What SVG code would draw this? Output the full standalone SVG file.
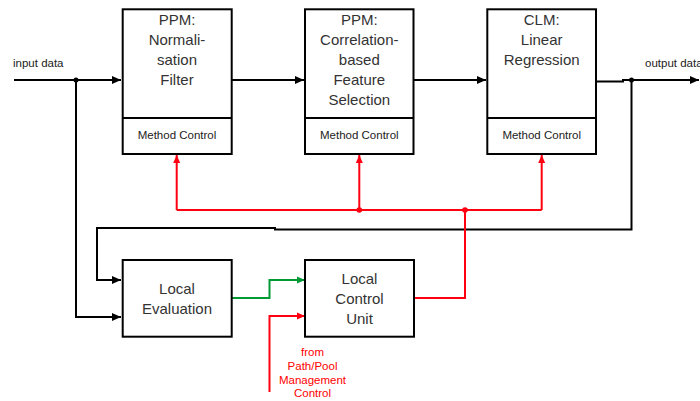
<svg xmlns="http://www.w3.org/2000/svg" width="700" height="401" viewBox="0 0 700 401">
<style>
.box{fill:#fff;stroke:#000;stroke-width:2}
.t{font-family:"Liberation Sans",Arial,sans-serif;font-size:15px;fill:#333;text-anchor:middle}
.s{font-family:"Liberation Sans",Arial,sans-serif;font-size:11.5px;fill:#222;text-anchor:middle}
.r{font-family:"Liberation Sans",Arial,sans-serif;font-size:11.5px;fill:#f00;text-anchor:middle}
.k{fill:none;stroke:#000;stroke-width:2}
.rl{fill:none;stroke:#f01;stroke-width:2}
.g{fill:none;stroke:#093;stroke-width:2}
</style>
<defs>
<marker id="ak" markerUnits="userSpaceOnUse" markerWidth="10" markerHeight="10" refX="9" refY="5" orient="auto"><path d="M0,1 L9,5 L0,9 Z" fill="#000"/></marker>
<marker id="ar" markerUnits="userSpaceOnUse" markerWidth="10" markerHeight="10" refX="8" refY="5" orient="auto"><path d="M0,1.5 L8,5 L0,8.5 Z" fill="#f01"/></marker>
<marker id="ag" markerUnits="userSpaceOnUse" markerWidth="10" markerHeight="10" refX="8" refY="5" orient="auto"><path d="M0,1.5 L8,5 L0,8.5 Z" fill="#093"/></marker>
</defs>
<g id="connectors">
<path class="k" d="M14,80 H121" marker-end="url(#ak)"/>
<path class="k" d="M76,80 V317 H121" marker-end="url(#ak)"/>
<path class="k" d="M232,80 H304" marker-end="url(#ak)"/>
<path class="k" d="M414,80 H486" marker-end="url(#ak)"/>
<path class="k" d="M596,81.5 H623 V80 H699" marker-end="url(#ak)"/>
<path class="k" d="M631.5,80 V229.5 H275 V228 H97 V280 H121" marker-end="url(#ak)"/>
<circle cx="76" cy="80" r="2.5" fill="#000"/>
<circle cx="631.5" cy="80" r="2.5" fill="#000"/>
<path class="rl" d="M176.7,210 V155" marker-end="url(#ar)"/>
<path class="rl" d="M359.3,210 V155" marker-end="url(#ar)"/>
<path class="rl" d="M541.7,210 V155" marker-end="url(#ar)"/>
<path class="rl" d="M176.7,210 H541.7"/>
<path class="rl" d="M414,298 H465 V210"/>
<circle cx="359.3" cy="210" r="2.8" fill="#f01"/>
<circle cx="465" cy="210" r="2.8" fill="#f01"/>
<path class="rl" d="M269.5,392 V316 H305" marker-end="url(#ar)"/>
<path class="g" d="M232,298 H269.5 V280 H305" marker-end="url(#ag)"/>
</g>
<g id="n1">
<rect class="box" x="122.7" y="9.3" width="109" height="144.7"/>
<line x1="122.7" y1="118" x2="231.7" y2="118" stroke="#000" stroke-width="2"/>
<text class="t" x="177" y="25">PPM:</text>
<text class="t" x="177" y="45">Normali-</text>
<text class="t" x="177" y="65">sation</text>
<text class="t" x="177" y="85">Filter</text>
<text class="s" x="177" y="139">Method Control</text>
</g>
<g id="n2">
<rect class="box" x="305" y="9.3" width="108.5" height="144.7"/>
<line x1="305" y1="118" x2="413.5" y2="118" stroke="#000" stroke-width="2"/>
<text class="t" x="359.3" y="25">PPM:</text>
<text class="t" x="359.3" y="45">Correlation-</text>
<text class="t" x="359.3" y="65">based</text>
<text class="t" x="359.3" y="85">Feature</text>
<text class="t" x="359.3" y="105">Selection</text>
<text class="s" x="359.3" y="139">Method Control</text>
</g>
<g id="n3">
<rect class="box" x="487.3" y="9.3" width="108.7" height="144.7"/>
<line x1="487.3" y1="118" x2="596" y2="118" stroke="#000" stroke-width="2"/>
<text class="t" x="541.7" y="25">CLM:</text>
<text class="t" x="541.7" y="45">Linear</text>
<text class="t" x="541.7" y="65">Regression</text>
<text class="s" x="541.7" y="139">Method Control</text>
</g>
<g id="n4">
<rect class="box" x="122.7" y="260" width="109" height="76.7"/>
<text class="t" x="177" y="293.5">Local</text>
<text class="t" x="177" y="313.5">Evaluation</text>
</g>
<g id="n5">
<rect class="box" x="305" y="260" width="109" height="76.7"/>
<text class="t" x="359.5" y="283.5">Local</text>
<text class="t" x="359.5" y="303.5">Control</text>
<text class="t" x="359.5" y="323.5">Unit</text>
</g>
<g id="labels">
<text class="s" x="13" y="66.5" text-anchor="start" style="text-anchor:start">input data</text>
<text class="s" x="645" y="67" style="text-anchor:start">output data</text>
<text class="r" x="312.5" y="355.5">from</text>
<text class="r" x="312.5" y="369.5">Path/Pool</text>
<text class="r" x="312.5" y="383.5">Management</text>
<text class="r" x="312.5" y="397">Control</text>
</g>
</svg>
